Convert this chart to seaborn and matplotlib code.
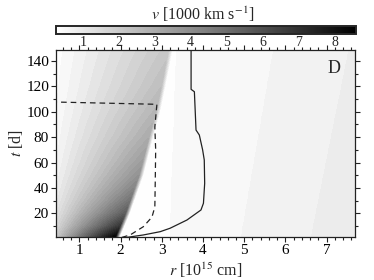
import numpy as np
import matplotlib
matplotlib.use("Agg")
import matplotlib.pyplot as plt
import matplotlib.colors as mcolors
import matplotlib.cm as cm
from matplotlib.ticker import MultipleLocator
import seaborn as sns

# ---- data ----
# ejecta (inside the shock): shock radius and velocity at the shock vs time
t_shock = [1, 10, 20, 30, 40, 50, 60, 80, 100, 120, 150]
r_shock = [1.86, 1.98, 2.11, 2.22, 2.33, 2.44, 2.52, 2.68, 2.85, 2.98, 3.16]
v_shock = [8.6, 6.74, 5.55, 4.76, 4.21, 3.81, 3.47, 2.98, 2.66, 2.39, 2.10]
edge_width = 0.10  # blurred width of the shock edge in r

# CSM bands outside the shock: boundaries (r at t=1 and t=150) and band velocities
csm_t = [1, 150]
csm_b1 = [3.20, 3.36]
csm_b2 = [4.93, 5.72]
csm_b3 = [6.63, 7.55]
csm_v = [0.3, 0.5, 0.7, 0.9]

# solid contour line (r, t)
solid_r = [2.15, 2.55, 2.96, 3.20, 3.61, 3.95, 4.01, 4.04, 4.03, 3.99, 3.91, 3.83, 3.79, 3.71, 3.71]
solid_t = [1.0, 2.9, 5.5, 8.2, 14.7, 22.6, 27.9, 43.6, 62.0, 70.0, 81.7, 85.6, 115.8, 117.7, 150.0]

# dashed contour line (r, t)
dash_r = [2.03, 2.23, 2.55, 2.76, 2.83, 2.84, 2.85, 2.83, 2.88, 0.40]
dash_t = [1.0, 2.9, 9.4, 17.0, 25.0, 45.0, 70.0, 88.0, 105.9, 107.7]

cbar_ticks = [1, 2, 3, 4, 5, 6, 7, 8]
v_min, v_max = 0.25, 8.6

# ---- style ----
sns.set_theme(style="ticks")
plt.rcParams["font.family"] = ["Liberation Serif", "DejaVu Serif"]
plt.rcParams["mathtext.fontset"] = "stix"
plt.rcParams["axes.linewidth"] = 0.9

fig = plt.figure(figsize=(3.74, 2.80), dpi=100)
ax = fig.add_axes([56/374, 1-237/280, 299/374, 187/280])
cax = fig.add_axes([56/374, 1-33.7/280, 300/374, 7.4/280])

# ---- build the velocity field ----
rr = np.linspace(0.4, 7.7, 700)
tt = np.linspace(1.0, 150.0, 400)
R, T = np.meshgrid(rr, tt)
rs = np.interp(T, t_shock, r_shock)
vs = np.interp(T, t_shock, v_shock)
b1 = np.interp(T, csm_t, csm_b1)
b2 = np.interp(T, csm_t, csm_b2)
b3 = np.interp(T, csm_t, csm_b3)
frac = np.clip((R - rs) / edge_width, 0, 1)
edge = vs * (1 - frac) + csm_v[0] * frac
V = np.select([R < rs, R < rs + edge_width, R < b1, R < b2, R < b3],
              [vs * R / rs, edge, np.full_like(R, csm_v[0]), np.full_like(R, csm_v[1]),
               np.full_like(R, csm_v[2])], default=csm_v[3])

norm = mcolors.Normalize(v_min, v_max)
cmap = plt.get_cmap("gray_r")
levels = np.arange(0.2, 8.81, 0.2)
ax.contourf(R, T, V, levels=levels, cmap=cmap, norm=norm, extend="both")

# ---- lines ----
sns.lineplot(x=solid_r, y=solid_t, sort=False, estimator=None, ax=ax,
             color="#222222", lw=0.9)
sns.lineplot(x=dash_r, y=dash_t, sort=False, estimator=None, ax=ax,
             color="#222222", lw=0.9, dashes=False, linestyle=(0, (4.5, 3.2)))

ax.set_xlim(0.43, 7.69)
ax.set_ylim(1.3, 148.7)
ax.xaxis.set_major_locator(MultipleLocator(1))
ax.xaxis.set_minor_locator(MultipleLocator(0.2))
ax.yaxis.set_minor_locator(MultipleLocator(10))
ax.set_yticks([20, 40, 60, 80, 100, 120, 140])
ax.tick_params(which="both", direction="out", top=True, right=True,
               labelsize=11, width=0.8, colors="#222222", labelcolor="black", pad=1.5)
ax.tick_params(which="major", length=3.5)
ax.tick_params(which="minor", length=2)
for s in ax.spines.values():
    s.set_visible(True)
    s.set_color("#222222")
ax.set_xlabel("$r$ [10$^{15}$ cm]", fontsize=11.5, labelpad=2.5)
ax.set_ylabel("$t$ [d]", fontsize=11.5, labelpad=1)
ax.text(0.93, 0.9, "D", transform=ax.transAxes, fontsize=13,
        ha="center", va="center")

# ---- colorbar ----
sm = cm.ScalarMappable(norm=norm, cmap=cmap)
cb = fig.colorbar(sm, cax=cax, orientation="horizontal")
cb.set_ticks(cbar_ticks)
cax.tick_params(direction="in", length=2.5, width=0.8, labelsize=10, pad=1.5,
                bottom=True, top=False)
cb.outline.set_linewidth(1.4)
fig.text(203/374, 1-14/280, "$v$ [1000 km s$^{-1}$]", ha="center", va="center",
         fontsize=11.5)

fig.savefig("out.png", dpi=100)
